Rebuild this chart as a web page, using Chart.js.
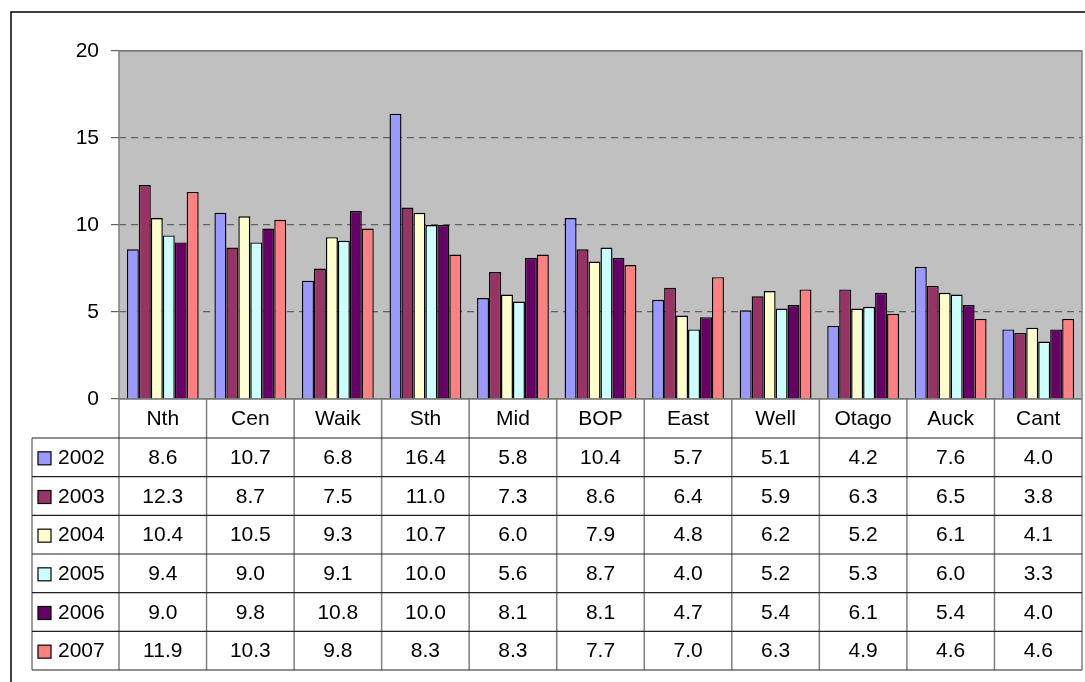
<!DOCTYPE html>
<html>
<head>
<meta charset="utf-8">
<script src="https://cdn.jsdelivr.net/npm/chart.js@4/dist/chart.umd.min.js"></script>
<style>
    body { margin: 0; background: #fff; }
    #wrap { width: 1085px; height: 682px; }
</style>
</head>
<body>
<div id="wrap"><canvas id="regionChart" width="1085" height="682"></canvas></div>
<script>
// region data
const categories = ['Nth', 'Cen', 'Waik', 'Sth', 'Mid', 'BOP', 'East', 'Well', 'Otago', 'Auck', 'Cant'];
const years = ['2002', '2003', '2004', '2005', '2006', '2007'];
const v2002 = [8.6, 10.7, 6.8, 16.4, 5.8, 10.4, 5.7, 5.1, 4.2, 7.6, 4.0];
const v2003 = [12.3, 8.7, 7.5, 11.0, 7.3, 8.6, 6.4, 5.9, 6.3, 6.5, 3.8];
const v2004 = [10.4, 10.5, 9.3, 10.7, 6.0, 7.9, 4.8, 6.2, 5.2, 6.1, 4.1];
const v2005 = [9.4, 9.0, 9.1, 10.0, 5.6, 8.7, 4.0, 5.2, 5.3, 6.0, 3.3];
const v2006 = [9.0, 9.8, 10.8, 10.0, 8.1, 8.1, 4.7, 5.4, 6.1, 5.4, 4.0];
const v2007 = [11.9, 10.3, 9.8, 8.3, 8.3, 7.7, 7.0, 6.3, 4.9, 4.6, 4.6];
const yTicks = [0, 5, 10, 15, 20];

const seriesValues = [v2002, v2003, v2004, v2005, v2006, v2007];
const seriesColors = ['#9999FF', '#993366', '#FFFFCC', '#CCFFFF', '#660066', '#FF8080'];

const FONT = '"Liberation Sans", Arial, sans-serif';

// plot background, border and the data table under the axis
const excelFrame = {
    id: 'excelFrame',
    beforeDraw(chart) {
        const { ctx, chartArea: a } = chart;
        ctx.save();
        ctx.fillStyle = '#C0C0C0';
        ctx.fillRect(a.left, a.top, a.right - a.left, a.bottom - a.top);
        ctx.restore();
    },
    afterDraw(chart) {
        const { ctx, chartArea: a } = chart;
        const xs = chart.scales.x;
        const n = categories.length;
        const colW = (a.right - a.left) / n;
        const headTop = a.bottom;
        const headBottom = 438;
        const tableBottom = 670;
        const rowH = (tableBottom - headBottom) / years.length;
        const legendLeft = 32;

        ctx.save();
        // outer chart border
        ctx.strokeStyle = '#000';
        ctx.lineWidth = 1.5;
        ctx.beginPath();
        ctx.moveTo(11, 682);
        ctx.lineTo(11, 12);
        ctx.lineTo(1085, 12);
        ctx.stroke();

        // plot border
        ctx.strokeStyle = '#808080';
        ctx.lineWidth = 1.5;
        ctx.strokeRect(a.left, a.top, a.right - a.left, a.bottom - a.top);

        // vertical table lines
        ctx.strokeStyle = '#808080';
        ctx.lineWidth = 1.5;
        ctx.beginPath();
        for (let i = 0; i <= n; i++) {
            const x = a.left + i * colW;
            ctx.moveTo(x, headTop);
            ctx.lineTo(x, tableBottom);
        }
        ctx.moveTo(legendLeft, headBottom);
        ctx.lineTo(legendLeft, tableBottom);
        ctx.stroke();

        // horizontal table lines
        ctx.strokeStyle = '#222';
        ctx.lineWidth = 1.2;
        ctx.beginPath();
        for (let r = 0; r <= years.length; r++) {
            const y = headBottom + r * rowH;
            ctx.moveTo(legendLeft, y);
            ctx.lineTo(a.right, y);
        }
        ctx.stroke();

        // legend keys and values
        ctx.font = '21px ' + FONT;
        ctx.textBaseline = 'middle';
        years.forEach((yr, r) => {
            const cy = headBottom + r * rowH + rowH / 2 + 1;
            ctx.fillStyle = seriesColors[r];
            ctx.fillRect(38, cy - 6.5, 13, 13);
            ctx.strokeStyle = '#000';
            ctx.lineWidth = 1.2;
            ctx.strokeRect(38, cy - 6.5, 13, 13);
            ctx.fillStyle = '#000';
            ctx.textAlign = 'left';
            ctx.fillText(yr, 58, cy);
            ctx.textAlign = 'center';
            seriesValues[r].forEach((v, i) => {
                ctx.fillText(v.toFixed(1), xs.getPixelForValue(i), cy);
            });
        });
        ctx.restore();
    }
};

const ctx = document.getElementById('regionChart').getContext('2d');
new Chart(ctx, {
    type: 'bar',
    data: {
        labels: categories,
        datasets: years.map((yr, i) => ({
            label: yr,
            data: seriesValues[i],
            backgroundColor: seriesColors[i],
            borderColor: '#000',
            borderWidth: 1.4,
            categoryPercentage: 0.82,
            barPercentage: 1.0
        }))
    },
    options: {
        responsive: false,
        animation: false,
        layout: { padding: { top: 51, right: 3, left: 0, bottom: 0 } },
        plugins: {
            legend: { display: false },
            tooltip: { enabled: false }
        },
        scales: {
            x: {
                grid: { display: false },
                border: { display: false },
                ticks: {
                    color: '#000',
                    font: { family: FONT, size: 21 },
                    padding: 0,
                    maxRotation: 0,
                    autoSkip: false
                },
                afterFit(scale) { scale.height = 283; }
            },
            y: {
                min: 0,
                max: 20,
                afterBuildTicks(scale) { scale.ticks = yTicks.map(v => ({ value: v })); },
                grid: {
                    color: '#606060',
                    lineWidth: 1.2,
                    tickLength: 8,
                    tickColor: '#606060',
                    tickBorderDash: []
                },
                border: {
                    display: false,
                    dash: c => (c.tick && (c.tick.value === 20 || c.tick.value === 0)) ? [] : [7, 5]
                },
                ticks: {
                    color: '#000',
                    font: { family: FONT, size: 21 },
                    padding: 12
                },
                afterFit(scale) { scale.width = 119; }
            }
        }
    },
    plugins: [excelFrame]
});
</script>
</body>
</html>
